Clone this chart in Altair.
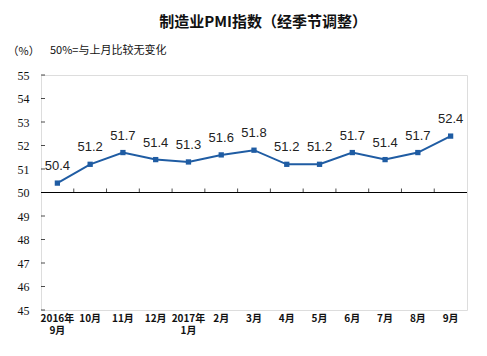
import altair as alt
import pandas as pd

months = ["2016年\n9月", "10月", "11月", "12月", "2017年\n1月", "2月", "3月",
          "4月", "5月", "6月", "7月", "8月", "9月"]
values = [50.4, 51.2, 51.7, 51.4, 51.3, 51.6, 51.8, 51.2, 51.2, 51.7, 51.4, 51.7, 52.4]
y_ticks = [45, 46, 47, 48, 49, 50, 51, 52, 53, 54, 55]

df = pd.DataFrame({"month": months, "pmi": values})
tick_df = pd.DataFrame({"month": months[1:]})
ytick_df = pd.DataFrame({"v": y_ticks})
note_df = pd.DataFrame({"t": ["50%=与上月比较无变化"]})

LINE = "#1f5ca3"
CJK = "Noto Sans CJK SC"

xscale = alt.Scale(type="band", domain=months, paddingInner=0, paddingOuter=0)
yscale = alt.Scale(domain=[45, 55], nice=False, zero=False)

x_axis = alt.Axis(title=None, labelAngle=0, ticks=False, domain=False,
                  labelExpr="split(datum.label, '\\n')",
                  labelFont=CJK, labelFontSize=10, labelFontWeight="bold",
                  labelColor="#111", labelPadding=3, labelLineHeight=12,
                  labelBaseline="top", labelOverlap=False)
y_axis = alt.Axis(title="（%）", titleAngle=0, titleX=-34, titleY=-24,
                  titleAlign="left", titleBaseline="middle", titleFont=CJK,
                  titleFontSize=11, titleFontWeight="normal", titleColor="#111",
                  values=y_ticks, ticks=False, domain=False, grid=False,
                  labelOverlap=False, labelFlush=False, labelBound=False,
                  labelFont="Liberation Serif", labelFontSize=12,
                  labelColor="#111", labelPadding=12)

x_enc = alt.X("month:N", sort=months, scale=xscale, bandPosition=0.5, axis=x_axis)
y_enc = alt.Y("pmi:Q", scale=yscale, axis=y_axis)

line = alt.Chart(df).mark_line(color=LINE, strokeWidth=2).encode(x=x_enc, y=y_enc)
pts = alt.Chart(df).mark_square(color=LINE, size=28, opacity=1).encode(x=x_enc, y=y_enc)
labels = alt.Chart(df).mark_text(
    font="Liberation Sans", fontSize=13, color="#222", dy=-17, baseline="middle"
).encode(x=x_enc, y=y_enc, text=alt.Text("pmi:Q", format=".1f"))

base50 = alt.Chart(df).mark_rule(color="black", strokeWidth=1).encode(
    y=alt.datum(50, scale=yscale, axis=y_axis))
xticks = alt.Chart(tick_df).mark_tick(
    orient="vertical", size=4, thickness=1, color="black", yOffset=-2
).encode(
    x=alt.X("month:N", sort=months, scale=xscale, bandPosition=0, axis=x_axis),
    y=alt.datum(50, scale=yscale, axis=y_axis))
yticks = alt.Chart(ytick_df).mark_tick(
    orient="horizontal", size=4, thickness=1, color="black"
).encode(x=alt.value(2), y=alt.Y("v:Q", scale=yscale, axis=y_axis))
note = alt.Chart(note_df).mark_text(
    font=CJK, fontSize=11, color="#111", align="left", baseline="middle"
).encode(x=alt.value(9), y=alt.value(-24), text="t:N")

chart = alt.layer(line, base50, xticks, yticks, pts, labels, note).properties(
    width=426, height=235,
    title=alt.Title("制造业PMI指数（经季节调整）", font=CJK, fontSize=15,
                    fontWeight="bold", color="#111", anchor="middle", dx=9,
                    offset=15),
    autosize=alt.AutoSizeParams(type="none"),
    padding={"left": 33, "top": 67, "right": 12, "bottom": 39},
).configure_view(stroke="black", strokeWidth=1).configure(background="white")

chart.save("out.html", embed_options={"renderer": "svg", "actions": False})
